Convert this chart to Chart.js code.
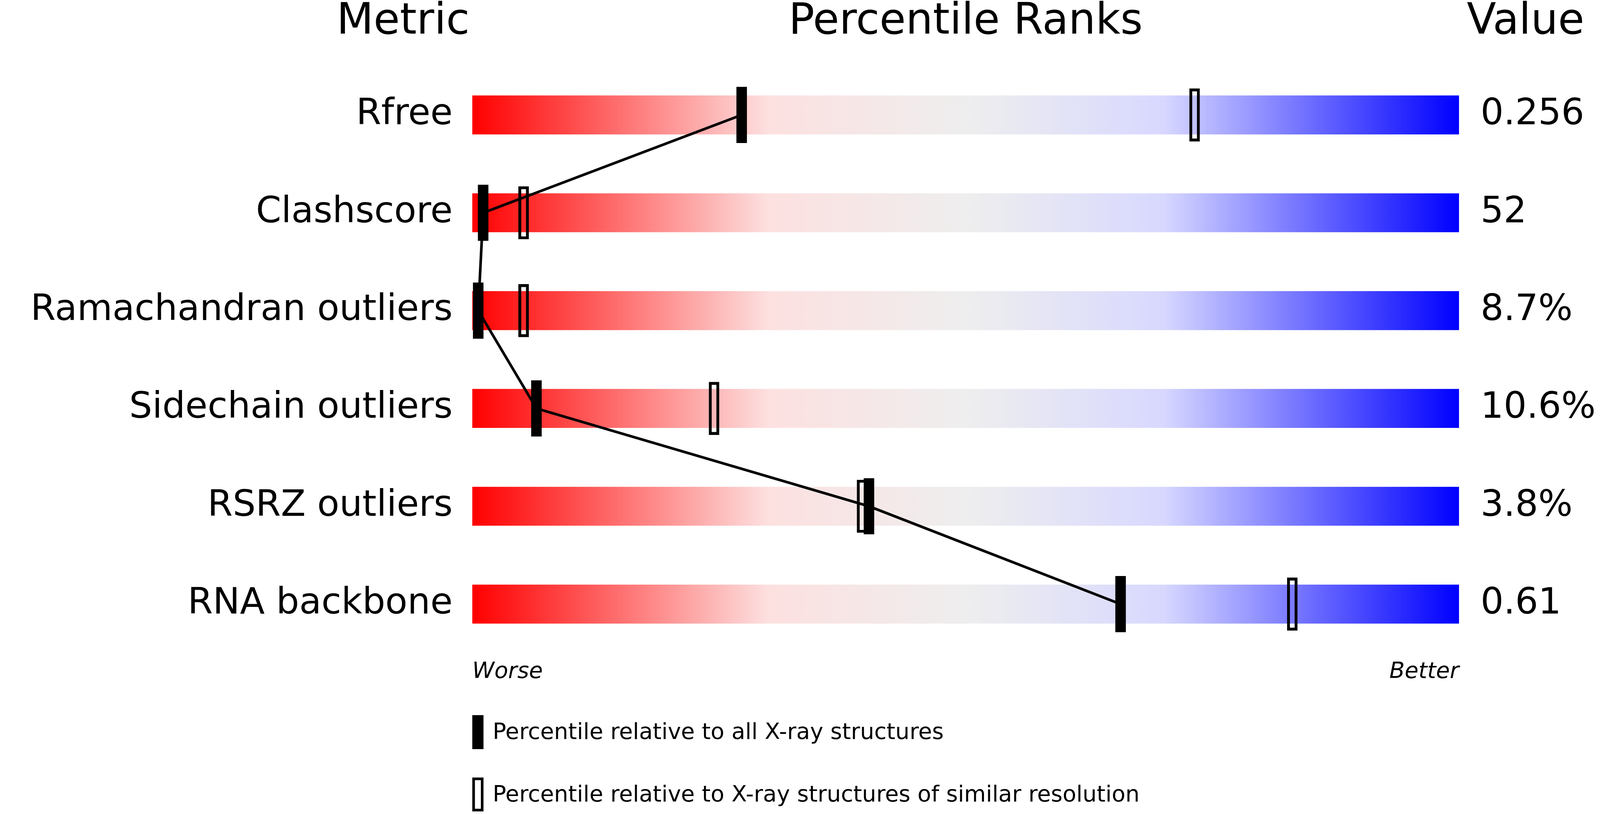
<!DOCTYPE html>
<html><head><meta charset="utf-8">
<script src="https://cdn.jsdelivr.net/npm/chart.js@4/dist/chart.umd.min.js"></script>
<style>html,body{margin:0;padding:0;background:#fff;overflow:hidden}canvas{display:block}</style>
</head><body>
<canvas id="c"></canvas>
<script>
const metrics = ["Rfree","Clashscore","Ramachandran outliers","Sidechain outliers","RSRZ outliers","RNA backbone"];
const values = ["0.256","52","8.7%","10.6%","3.8%","0.61"];
const pctAll = [27.3, 1.1, 0.6, 6.5, 40.2, 65.7];
const pctSimilar = [73.2, 5.2, 5.2, 24.5, 39.5, 83.1];
const FONT = "'DejaVu Sans', sans-serif";
const HW = 0.52;

const W = window.innerWidth, H = window.innerHeight;
const k = W / 4858, kh = H / 2083;
const cv = document.getElementById('c');
cv.style.width = W + 'px'; cv.style.height = H + 'px';
cv.width = W; cv.height = H;

function gradFill(ctx){
  const ch = ctx.chart, a = ch.chartArea;
  if(!a) return '#f00';
  const g = ch.ctx.createLinearGradient(a.left,0,a.right,0);
  g.addColorStop(0,'#ff0000');
  g.addColorStop(0.3,'#fde0e0');
  g.addColorStop(0.5,'#eeeeee');
  g.addColorStop(0.7,'#d8d8ff');
  g.addColorStop(1,'#0000ff');
  return g;
}

const textPlugin = {
  id:'texts',
  afterDraw(ch){
    const c = ch.ctx, a = ch.chartArea;
    c.save();
    c.fillStyle = '#000'; c.strokeStyle = '#000';
    c.textBaseline = 'middle';
    c.font = `${130*k}px ${FONT}`;
    c.textAlign = 'center';
    c.fillText('Metric', 1224*k, 58*kh);
    c.fillText('Percentile Ranks', (a.left+a.right)/2, 58*kh);
    c.fillText('Value', 4632*k, 58*kh);
    c.font = `italic ${68*k}px ${FONT}`;
    c.textAlign = 'left';
    c.fillText('Worse', a.left, 1720*kh);
    c.textAlign = 'right';
    c.fillText('Better', a.right, 1720*kh);
    c.textAlign = 'left';
    c.font = `${68*k}px ${FONT}`;
    c.fillRect(a.left, 1830*kh, 34*k, 87*kh);
    c.lineWidth = 8*k;
    c.strokeRect(a.left+4*k, 1993*kh, 26*k, 80*kh);
    c.fillText('Percentile relative to all X-ray structures', 1496*k, 1876*kh);
    c.fillText('Percentile relative to X-ray structures of similar resolution', 1496*k, 2036*kh);
    c.restore();
  }
};

new Chart(cv, {
  data: {
    labels: metrics,
    datasets: [
      { type:'bar', data: pctAll.map(v=>[v-HW, v+HW]), backgroundColor:'#000', borderWidth:0, barThickness:143*kh, grouped:false, order:1 },
      { type:'bar', data: pctSimilar.map(v=>[v-HW, v+HW]), backgroundColor:'rgba(0,0,0,0)', borderColor:'#000', borderWidth:8*k, borderSkipped:false, barThickness:135*kh, grouped:false, order:2 },
      { type:'line', data: pctAll, borderColor:'#000', borderWidth:8*k, pointRadius:0, fill:false, tension:0, order:3 },
      { type:'bar', data: metrics.map(()=>[0,100]), backgroundColor: gradFill, borderWidth:0, barThickness:99*kh, grouped:false, order:4 }
    ]
  },
  options: {
    indexAxis:'y', responsive:false, animation:false,
    layout:{ padding:{ top:169*kh, bottom:412*kh, left:0, right:0 } },
    plugins:{ legend:{display:false}, tooltip:{enabled:false} },
    scales:{
      x:{ type:'linear', min:0, max:100, display:false },
      y:{ type:'category', position:'left', offset:true, grid:{display:false}, border:{display:false},
          ticks:{ color:'#000', font:{family:FONT, size:110*k}, padding:50*k },
          afterFit(s){ s.width = 1434*k; } },
      y2:{ type:'category', position:'right', labels: values, offset:true, grid:{display:false}, border:{display:false},
          ticks:{ color:'#000', font:{family:FONT, size:110*k}, padding:56*k },
          afterFit(s){ s.width = 428*k; } }
    }
  },
  plugins:[textPlugin]
});
</script>
</body></html>
